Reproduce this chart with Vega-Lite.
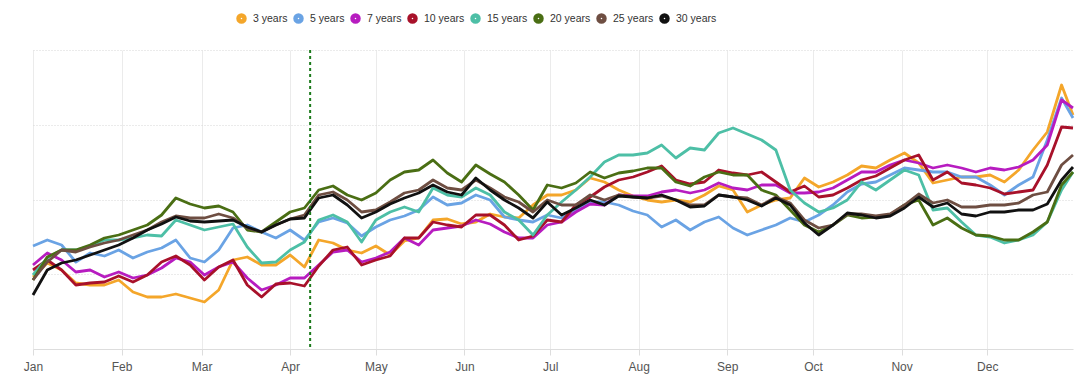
{
  "$schema": "https://vega.github.io/schema/vega-lite/v6.json",
  "width": 1040,
  "height": 299,
  "autosize": {"type": "none"},
  "padding": {"left": 33, "top": 50, "right": 15, "bottom": 33},
  "background": "white",
  "config": {
    "view": {"stroke": null},
    "font": "Liberation Sans",
    "line": {"strokeJoin": "round"}
  },
  "layer": [
    {
      "data": {
        "values": [
          {"date": "2023-01-01", "3 years": 72, "5 years": 103, "7 years": 84, "10 years": 79, "15 years": 74, "20 years": 69, "25 years": 69, "30 years": 54},
          {"date": "2023-01-06", "3 years": 86, "5 years": 109, "7 years": 96, "10 years": 89, "15 years": 91, "20 years": 92, "25 years": 87, "30 years": 79},
          {"date": "2023-01-11", "3 years": 79, "5 years": 104, "7 years": 89, "10 years": 79, "15 years": 99, "20 years": 99, "25 years": 99, "30 years": 86},
          {"date": "2023-01-16", "3 years": 66, "5 years": 87, "7 years": 77, "10 years": 64, "15 years": 99, "20 years": 99, "25 years": 97, "30 years": 89},
          {"date": "2023-01-21", "3 years": 64, "5 years": 96, "7 years": 79, "10 years": 66, "15 years": 103, "20 years": 104, "25 years": 102, "30 years": 94},
          {"date": "2023-01-26", "3 years": 64, "5 years": 93, "7 years": 72, "10 years": 67, "15 years": 109, "20 years": 111, "25 years": 106, "30 years": 99},
          {"date": "2023-01-31", "3 years": 69, "5 years": 99, "7 years": 77, "10 years": 73, "15 years": 109, "20 years": 114, "25 years": 109, "30 years": 104},
          {"date": "2023-02-05", "3 years": 57, "5 years": 91, "7 years": 71, "10 years": 67, "15 years": 111, "20 years": 119, "25 years": 114, "30 years": 111},
          {"date": "2023-02-10", "3 years": 52, "5 years": 97, "7 years": 74, "10 years": 74, "15 years": 114, "20 years": 124, "25 years": 119, "30 years": 119},
          {"date": "2023-02-15", "3 years": 52, "5 years": 101, "7 years": 81, "10 years": 87, "15 years": 113, "20 years": 134, "25 years": 127, "30 years": 125},
          {"date": "2023-02-20", "3 years": 55, "5 years": 109, "7 years": 91, "10 years": 93, "15 years": 129, "20 years": 151, "25 years": 133, "30 years": 132},
          {"date": "2023-02-25", "3 years": 51, "5 years": 91, "7 years": 87, "10 years": 84, "15 years": 124, "20 years": 145, "25 years": 131, "30 years": 128},
          {"date": "2023-03-02", "3 years": 47, "5 years": 87, "7 years": 74, "10 years": 69, "15 years": 119, "20 years": 141, "25 years": 131, "30 years": 127},
          {"date": "2023-03-07", "3 years": 59, "5 years": 99, "7 years": 82, "10 years": 82, "15 years": 122, "20 years": 143, "25 years": 135, "30 years": 128},
          {"date": "2023-03-12", "3 years": 89, "5 years": 121, "7 years": 87, "10 years": 89, "15 years": 125, "20 years": 137, "25 years": 131, "30 years": 129},
          {"date": "2023-03-17", "3 years": 92, "5 years": 124, "7 years": 71, "10 years": 64, "15 years": 102, "20 years": 119, "25 years": 121, "30 years": 122},
          {"date": "2023-03-22", "3 years": 84, "5 years": 117, "7 years": 59, "10 years": 52, "15 years": 86, "20 years": 117, "25 years": 117, "30 years": 117},
          {"date": "2023-03-27", "3 years": 84, "5 years": 111, "7 years": 64, "10 years": 65, "15 years": 87, "20 years": 127, "25 years": 124, "30 years": 124},
          {"date": "2023-04-01", "3 years": 94, "5 years": 119, "7 years": 71, "10 years": 66, "15 years": 99, "20 years": 137, "25 years": 130, "30 years": 130},
          {"date": "2023-04-06", "3 years": 82, "5 years": 109, "7 years": 71, "10 years": 63, "15 years": 107, "20 years": 141, "25 years": 134, "30 years": 131},
          {"date": "2023-04-11", "3 years": 109, "5 years": 127, "7 years": 84, "10 years": 83, "15 years": 129, "20 years": 159, "25 years": 154, "30 years": 151},
          {"date": "2023-04-16", "3 years": 106, "5 years": 131, "7 years": 97, "10 years": 99, "15 years": 134, "20 years": 163, "25 years": 157, "30 years": 154},
          {"date": "2023-04-21", "3 years": 99, "5 years": 126, "7 years": 99, "10 years": 102, "15 years": 127, "20 years": 154, "25 years": 149, "30 years": 144},
          {"date": "2023-04-26", "3 years": 96, "5 years": 113, "7 years": 87, "10 years": 84, "15 years": 107, "20 years": 149, "25 years": 137, "30 years": 131},
          {"date": "2023-05-01", "3 years": 103, "5 years": 122, "7 years": 91, "10 years": 89, "15 years": 129, "20 years": 156, "25 years": 139, "30 years": 137},
          {"date": "2023-05-06", "3 years": 94, "5 years": 129, "7 years": 97, "10 years": 93, "15 years": 137, "20 years": 169, "25 years": 147, "30 years": 145},
          {"date": "2023-05-11", "3 years": 108, "5 years": 133, "7 years": 111, "10 years": 111, "15 years": 142, "20 years": 177, "25 years": 156, "30 years": 151},
          {"date": "2023-05-16", "3 years": 111, "5 years": 139, "7 years": 104, "10 years": 111, "15 years": 137, "20 years": 179, "25 years": 159, "30 years": 156},
          {"date": "2023-05-21", "3 years": 129, "5 years": 152, "7 years": 119, "10 years": 127, "15 years": 161, "20 years": 189, "25 years": 169, "30 years": 164},
          {"date": "2023-05-26", "3 years": 130, "5 years": 144, "7 years": 121, "10 years": 124, "15 years": 154, "20 years": 176, "25 years": 161, "30 years": 157},
          {"date": "2023-05-31", "3 years": 125, "5 years": 146, "7 years": 123, "10 years": 122, "15 years": 152, "20 years": 167, "25 years": 159, "30 years": 154},
          {"date": "2023-06-05", "3 years": 127, "5 years": 154, "7 years": 129, "10 years": 134, "15 years": 161, "20 years": 184, "25 years": 169, "30 years": 171},
          {"date": "2023-06-10", "3 years": 135, "5 years": 149, "7 years": 125, "10 years": 134, "15 years": 154, "20 years": 175, "25 years": 161, "30 years": 159},
          {"date": "2023-06-15", "3 years": 132, "5 years": 132, "7 years": 117, "10 years": 124, "15 years": 137, "20 years": 167, "25 years": 152, "30 years": 149},
          {"date": "2023-06-20", "3 years": 131, "5 years": 129, "7 years": 111, "10 years": 109, "15 years": 129, "20 years": 154, "25 years": 147, "30 years": 141},
          {"date": "2023-06-25", "3 years": 144, "5 years": 127, "7 years": 111, "10 years": 113, "15 years": 114, "20 years": 139, "25 years": 137, "30 years": 131},
          {"date": "2023-06-30", "3 years": 154, "5 years": 134, "7 years": 124, "10 years": 129, "15 years": 134, "20 years": 164, "25 years": 149, "30 years": 147},
          {"date": "2023-07-05", "3 years": 154, "5 years": 131, "7 years": 127, "10 years": 127, "15 years": 147, "20 years": 161, "25 years": 144, "30 years": 134},
          {"date": "2023-07-10", "3 years": 159, "5 years": 139, "7 years": 137, "10 years": 144, "15 years": 159, "20 years": 166, "25 years": 144, "30 years": 141},
          {"date": "2023-07-15", "3 years": 171, "5 years": 147, "7 years": 145, "10 years": 152, "15 years": 172, "20 years": 177, "25 years": 154, "30 years": 149},
          {"date": "2023-07-20", "3 years": 167, "5 years": 147, "7 years": 144, "10 years": 162, "15 years": 187, "20 years": 171, "25 years": 149, "30 years": 144},
          {"date": "2023-07-25", "3 years": 159, "5 years": 144, "7 years": 154, "10 years": 169, "15 years": 194, "20 years": 176, "25 years": 154, "30 years": 153},
          {"date": "2023-07-30", "3 years": 153, "5 years": 138, "7 years": 153, "10 years": 172, "15 years": 194, "20 years": 178, "25 years": 152, "30 years": 152},
          {"date": "2023-08-04", "3 years": 149, "5 years": 134, "7 years": 153, "10 years": 177, "15 years": 196, "20 years": 181, "25 years": 151, "30 years": 151},
          {"date": "2023-08-09", "3 years": 147, "5 years": 122, "7 years": 157, "10 years": 183, "15 years": 204, "20 years": 181, "25 years": 153, "30 years": 154},
          {"date": "2023-08-14", "3 years": 149, "5 years": 129, "7 years": 159, "10 years": 169, "15 years": 191, "20 years": 167, "25 years": 149, "30 years": 149},
          {"date": "2023-08-19", "3 years": 147, "5 years": 119, "7 years": 156, "10 years": 165, "15 years": 201, "20 years": 163, "25 years": 144, "30 years": 142},
          {"date": "2023-08-24", "3 years": 154, "5 years": 127, "7 years": 159, "10 years": 167, "15 years": 199, "20 years": 172, "25 years": 144, "30 years": 143},
          {"date": "2023-08-29", "3 years": 163, "5 years": 132, "7 years": 166, "10 years": 179, "15 years": 216, "20 years": 177, "25 years": 154, "30 years": 154},
          {"date": "2023-09-03", "3 years": 159, "5 years": 121, "7 years": 161, "10 years": 176, "15 years": 221, "20 years": 174, "25 years": 152, "30 years": 152},
          {"date": "2023-09-08", "3 years": 137, "5 years": 114, "7 years": 159, "10 years": 174, "15 years": 215, "20 years": 174, "25 years": 151, "30 years": 149},
          {"date": "2023-09-13", "3 years": 144, "5 years": 119, "7 years": 164, "10 years": 177, "15 years": 209, "20 years": 159, "25 years": 144, "30 years": 143},
          {"date": "2023-09-18", "3 years": 149, "5 years": 124, "7 years": 164, "10 years": 167, "15 years": 199, "20 years": 154, "25 years": 152, "30 years": 151},
          {"date": "2023-09-23", "3 years": 151, "5 years": 131, "7 years": 156, "10 years": 157, "15 years": 159, "20 years": 139, "25 years": 146, "30 years": 144},
          {"date": "2023-09-28", "3 years": 171, "5 years": 127, "7 years": 156, "10 years": 163, "15 years": 146, "20 years": 124, "25 years": 129, "30 years": 126},
          {"date": "2023-10-03", "3 years": 162, "5 years": 134, "7 years": 157, "10 years": 152, "15 years": 137, "20 years": 117, "25 years": 121, "30 years": 114},
          {"date": "2023-10-08", "3 years": 167, "5 years": 144, "7 years": 161, "10 years": 154, "15 years": 141, "20 years": 124, "25 years": 124, "30 years": 124},
          {"date": "2023-10-13", "3 years": 174, "5 years": 157, "7 years": 169, "10 years": 161, "15 years": 149, "20 years": 134, "25 years": 135, "30 years": 136},
          {"date": "2023-10-18", "3 years": 183, "5 years": 165, "7 years": 177, "10 years": 169, "15 years": 167, "20 years": 131, "25 years": 135, "30 years": 134},
          {"date": "2023-10-23", "3 years": 181, "5 years": 167, "7 years": 177, "10 years": 173, "15 years": 159, "20 years": 132, "25 years": 133, "30 years": 131},
          {"date": "2023-10-28", "3 years": 189, "5 years": 174, "7 years": 184, "10 years": 181, "15 years": 169, "20 years": 134, "25 years": 135, "30 years": 133},
          {"date": "2023-11-02", "3 years": 196, "5 years": 181, "7 years": 189, "10 years": 189, "15 years": 179, "20 years": 144, "25 years": 144, "30 years": 141},
          {"date": "2023-11-07", "3 years": 186, "5 years": 179, "7 years": 186, "10 years": 194, "15 years": 174, "20 years": 149, "25 years": 155, "30 years": 152},
          {"date": "2023-11-12", "3 years": 166, "5 years": 177, "7 years": 181, "10 years": 169, "15 years": 139, "20 years": 124, "25 years": 146, "30 years": 142},
          {"date": "2023-11-17", "3 years": 169, "5 years": 177, "7 years": 184, "10 years": 177, "15 years": 141, "20 years": 131, "25 years": 149, "30 years": 146},
          {"date": "2023-11-22", "3 years": 172, "5 years": 172, "7 years": 181, "10 years": 166, "15 years": 127, "20 years": 121, "25 years": 142, "30 years": 135},
          {"date": "2023-11-27", "3 years": 172, "5 years": 172, "7 years": 177, "10 years": 164, "15 years": 114, "20 years": 114, "25 years": 142, "30 years": 133},
          {"date": "2023-12-02", "3 years": 174, "5 years": 164, "7 years": 181, "10 years": 161, "15 years": 112, "20 years": 113, "25 years": 144, "30 years": 137},
          {"date": "2023-12-07", "3 years": 167, "5 years": 154, "7 years": 179, "10 years": 155, "15 years": 106, "20 years": 109, "25 years": 144, "30 years": 137},
          {"date": "2023-12-12", "3 years": 179, "5 years": 164, "7 years": 182, "10 years": 157, "15 years": 109, "20 years": 109, "25 years": 146, "30 years": 139},
          {"date": "2023-12-17", "3 years": 199, "5 years": 172, "7 years": 189, "10 years": 159, "15 years": 114, "20 years": 117, "25 years": 154, "30 years": 139},
          {"date": "2023-12-22", "3 years": 217, "5 years": 209, "7 years": 204, "10 years": 184, "15 years": 127, "20 years": 127, "25 years": 157, "30 years": 145},
          {"date": "2023-12-27", "3 years": 264, "5 years": 251, "7 years": 249, "10 years": 222, "15 years": 159, "20 years": 164, "25 years": 184, "30 years": 169},
          {"date": "2023-12-31", "3 years": 234, "5 years": 231, "7 years": 241, "10 years": 221, "15 years": 177, "20 years": 177, "25 years": 194, "30 years": 182}
        ]
      },
      "transform": [
        {"fold": ["3 years", "5 years", "7 years", "10 years", "15 years", "20 years", "25 years", "30 years"], "as": ["series", "value"]}
      ],
      "mark": {"type": "line", "interpolate": "linear"},
      "encoding": {
        "strokeWidth": {"value": 2.8},
        "x": {
          "field": "date",
          "type": "temporal",
          "scale": {"type": "utc", "domain": ["2023-01-01", "2023-12-31"]},
          "axis": {
            "title": null,
            "format": "%b",
            "tickCount": {"interval": "month", "step": 1},
            "labelFlush": false,
            "labelFontSize": 12,
            "labelColor": "#555555",
            "labelFont": "Liberation Sans",
            "labelPadding": 6,
            "domainColor": "#dddddd",
            "tickColor": "#dddddd",
            "tickSize": 6,
            "grid": true,
            "gridColor": "#ebebeb"
          }
        },
        "y": {
          "field": "value",
          "type": "quantitative",
          "scale": {"domain": [0, 299], "nice": false, "zero": false},
          "axis": {
            "title": null,
            "labels": false,
            "ticks": false,
            "domain": false,
            "values": [74.75, 149.5, 224.25, 299],
            "grid": true,
            "gridColor": "#d6d6d6",
            "gridDash": [1, 2]
          }
        },
        "color": {
          "field": "series",
          "type": "nominal",
          "scale": {
            "domain": ["3 years", "5 years", "7 years", "10 years", "15 years", "20 years", "25 years", "30 years"],
            "range": ["#F4A62A", "#6AA3E4", "#B71CC0", "#A8112A", "#4DBFA6", "#4A6E14", "#6E4E42", "#111111"]
          },
          "legend": {
            "title": null,
            "orient": "none",
            "direction": "horizontal",
            "legendX": 203,
            "legendY": -37,
            "symbolType": "circle",
            "symbolSize": 20,
            "symbolStrokeWidth": 6,
            "labelFontSize": 10.5,
            "labelColor": "#333333",
            "labelFont": "Liberation Sans",
            "labelOffset": 6,
            "columnPadding": 5
          }
        }
      }
    },
    {
      "data": {"values": [{"date": "2023-04-08"}]},
      "mark": {"type": "rule", "stroke": "#1B7A1B", "strokeWidth": 2, "strokeDash": [3, 3]},
      "encoding": {
        "x": {"field": "date", "type": "temporal"}
      }
    }
  ]
}
